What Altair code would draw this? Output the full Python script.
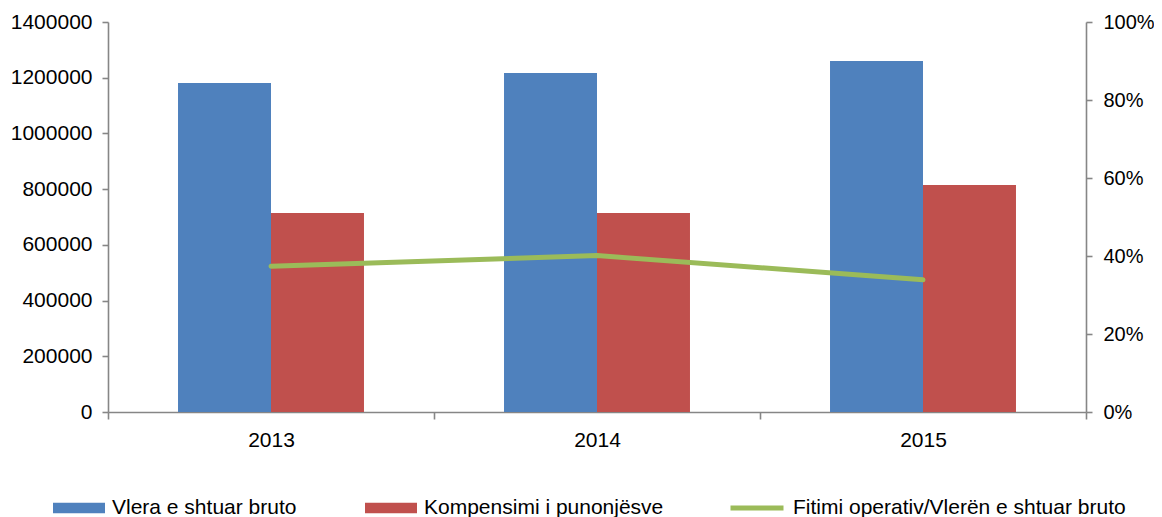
import altair as alt
import pandas as pd

years = ["2013", "2014", "2015"]
vlera = [1181000, 1217000, 1260000]
kompensimi = [714000, 714000, 815000]
fitimi = [0.374, 0.401, 0.339]
series_bars = ["Vlera e shtuar bruto", "Kompensimi i punonjësve"]
series_line = ["Fitimi operativ/Vlerën e shtuar bruto"]
left_ticks = [0, 200000, 400000, 600000, 800000, 1000000, 1200000, 1400000]
right_ticks = [0, 0.2, 0.4, 0.6, 0.8, 1.0]

bars_df = pd.DataFrame({
    "Viti": years * 2,
    "Seria": [series_bars[0]] * 3 + [series_bars[1]] * 3,
    "Vlera": vlera + kompensimi,
})
line_df = pd.DataFrame({
    "Viti": years,
    "Linja": series_line * 3,
    "Raporti": fitimi,
})

FONT = "Liberation Sans"
GRAY = "#868686"

x_enc = alt.X(
    "Viti:N",
    sort=years,
    scale=alt.Scale(paddingInner=0, paddingOuter=0),
    axis=alt.Axis(title=None, labelAngle=0, tickBand="extent", tickSize=7,
                  labelPadding=10, grid=False),
)

bars = alt.Chart(bars_df).mark_bar().encode(
    x=x_enc,
    xOffset=alt.XOffset("Seria:N", sort=series_bars,
                        scale=alt.Scale(paddingInner=0, paddingOuter=0.753)),
    y=alt.Y("Vlera:Q",
            scale=alt.Scale(domain=[0, 1400000], nice=False),
            axis=alt.Axis(values=left_ticks, format="d", title=None, grid=False,
                          orient="left", tickSize=6, labelPadding=10)),
    fill=alt.Fill("Seria:N", sort=series_bars,
                  scale=alt.Scale(domain=series_bars, range=["#4F81BD", "#C0504D"]),
                  legend=alt.Legend(title=None, orient="none", legendX=-55, legendY=460,
                                    direction="horizontal",
                                    symbolType="M-1,-0.2H1V0.2H-1Z", symbolSize=2704,
                                    symbolStrokeWidth=0, labelOffset=7,
                                    columnPadding=68, labelLimit=600)),
)

line = alt.Chart(line_df).mark_line(strokeWidth=5, strokeCap="round").encode(
    x=alt.X("Viti:N", sort=years),
    y=alt.Y("Raporti:Q",
            scale=alt.Scale(domain=[0, 1], nice=False),
            axis=alt.Axis(values=right_ticks, format=".0%", title=None, grid=False,
                          orient="right", tickSize=6, labelPadding=11,
                          labelFontSize=20)),
    stroke=alt.Stroke("Linja:N",
                      scale=alt.Scale(domain=series_line, range=["#9BBB59"]),
                      legend=alt.Legend(title=None, orient="none", legendX=620, legendY=457,
                                        direction="horizontal", symbolType="stroke",
                                        symbolSize=2809, symbolStrokeWidth=5,
                                        labelOffset=7, labelLimit=600)),
)

chart = alt.layer(bars, line).resolve_scale(y="independent").properties(
    width=978,
    height=390,
    autosize=alt.AutoSizeParams(type="none"),
    padding={"left": 100, "top": 14, "right": 68, "bottom": 105},
).configure_view(stroke=None).configure_axis(
    domainColor=GRAY, tickColor=GRAY, domainWidth=1.6, tickWidth=1.6,
    labelFont=FONT, labelFontSize=21, labelColor="black",
).configure_legend(
    labelFont=FONT, labelFontSize=21, labelColor="black", padding=0,
)

chart.save("out.html", embed_options={"renderer": "svg", "actions": False})
